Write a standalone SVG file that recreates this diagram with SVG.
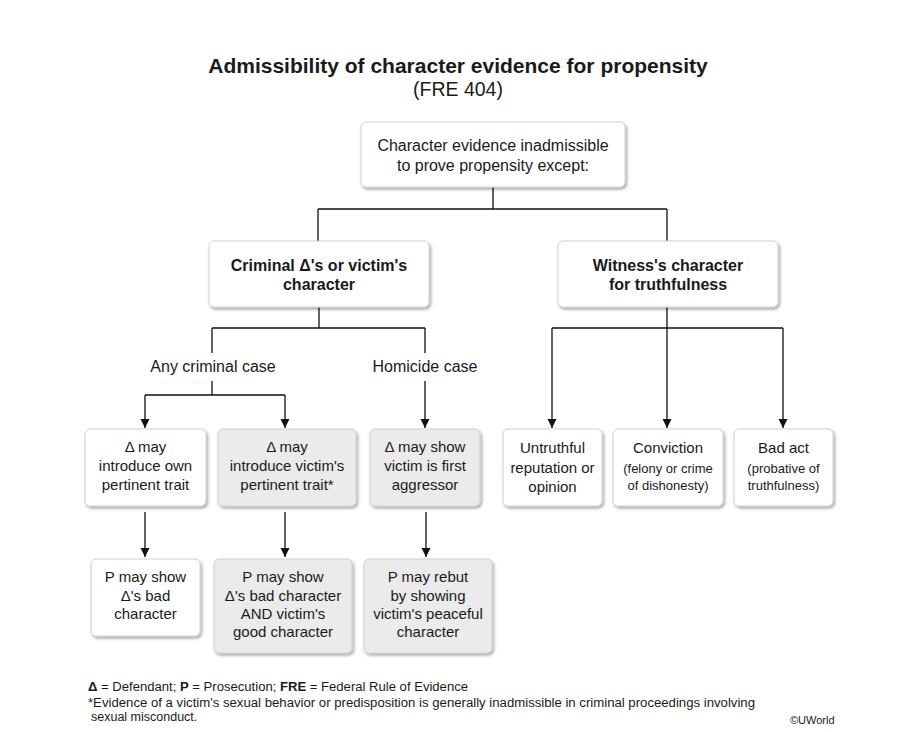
<svg xmlns="http://www.w3.org/2000/svg" width="906" height="732" viewBox="0 0 906 732">
<defs>
  <filter id="sh" x="-10%" y="-10%" width="125%" height="130%">
    <feDropShadow dx="1.5" dy="2" stdDeviation="1.5" flood-color="#000" flood-opacity="0.35"/>
  </filter>
  <marker id="arr" markerUnits="userSpaceOnUse" markerWidth="10" markerHeight="10" viewBox="0 0 10 10" refX="9" refY="5" orient="auto">
    <path d="M0,0.5 L9,5 L0,9.5 Z" fill="#111"/>
  </marker>
</defs>
<style>
  text { font-family: "Liberation Sans", Arial, sans-serif; fill: #1a1a1a; text-anchor: middle; }
  .title { font-size: 21px; font-weight: bold; }
  .sub { font-size: 19.5px; }
  .t16 { font-size: 16px; }
  .b16 { font-size: 16px; font-weight: bold; }
  .t15 { font-size: 15px; }
  .t13 { font-size: 13px; }
  .foot { font-size: 12.5px; text-anchor: start; }
  .box { fill: #ffffff; stroke: #cfcfcf; stroke-width: 1; filter: url(#sh); }
  .gbox { fill: #ebebeb; stroke: #cfcfcf; stroke-width: 1; filter: url(#sh); }
  .ln { fill: none; stroke: #111; stroke-width: 1.3; }
  .ar { fill: none; stroke: #111; stroke-width: 1.3; marker-end: url(#arr); }
</style>
<rect width="906" height="732" fill="#ffffff"/>

<text class="title" x="458" y="73">Admissibility of character evidence for propensity</text>
<text class="sub" x="458" y="96">(FRE 404)</text>

<g id="connectors">
  <path class="ln" d="M493,187 V209 M318,209 H667 M318,209 V241 M667,209 V241"/>
  <path class="ln" d="M319,307 V328 M212,328 H425 M212,328 V353 M425,328 V353"/>
  <path class="ln" d="M212,381 V395 M145,395 H285"/>
  <path class="ar" d="M145,395 V428"/>
  <path class="ar" d="M285,395 V428"/>
  <path class="ar" d="M425,381 V428"/>
  <path class="ln" d="M667,307 V328 M552,328 H783"/>
  <path class="ar" d="M552,328 V428"/>
  <path class="ar" d="M667,328 V428"/>
  <path class="ar" d="M783,328 V428"/>
  <path class="ar" d="M145,512 V557"/>
  <path class="ar" d="M285,512 V557"/>
  <path class="ar" d="M426,512 V557"/>
</g>

<g id="lbl-any"><text class="t16" x="213" y="372">Any criminal case</text></g>
<g id="lbl-homicide"><text class="t16" x="425" y="372">Homicide case</text></g>

<g id="n-top">
  <rect class="box" x="361" y="122" width="264" height="65" rx="5"/>
  <text class="t16" x="493" y="151">Character evidence inadmissible</text>
  <text class="t16" x="493" y="171">to prove propensity except:</text>
</g>

<g id="n-criminal">
  <rect class="box" x="209" y="241" width="220" height="66" rx="5"/>
  <text class="b16" x="319" y="271">Criminal Δ's or victim's</text>
  <text class="b16" x="319" y="290">character</text>
</g>

<g id="n-witness">
  <rect class="box" x="558" y="241" width="220" height="66" rx="5"/>
  <text class="b16" x="668" y="271">Witness's character</text>
  <text class="b16" x="668" y="290">for truthfulness</text>
</g>

<g id="n-own">
  <rect class="box" x="85" y="429" width="121" height="77" rx="5"/>
  <text class="t15" x="145.5" y="452">Δ may</text>
  <text class="t15" x="145.5" y="471">introduce own</text>
  <text class="t15" x="145.5" y="490">pertinent trait</text>
</g>

<g id="n-victim">
  <rect class="gbox" x="218" y="429" width="138" height="77" rx="5"/>
  <text class="t15" x="287" y="452">Δ may</text>
  <text class="t15" x="287" y="471">introduce victim's</text>
  <text class="t15" x="287" y="490">pertinent trait*</text>
</g>

<g id="n-aggressor">
  <rect class="gbox" x="370" y="429" width="110" height="77" rx="5"/>
  <text class="t15" x="425" y="452">Δ may show</text>
  <text class="t15" x="425" y="471">victim is first</text>
  <text class="t15" x="425" y="490">aggressor</text>
</g>

<g id="n-untruthful">
  <rect class="box" x="503" y="429" width="99" height="77" rx="5"/>
  <text class="t15" x="552.5" y="453">Untruthful</text>
  <text class="t15" x="552.5" y="473">reputation or</text>
  <text class="t15" x="552.5" y="492">opinion</text>
</g>

<g id="n-conviction">
  <rect class="box" x="613" y="429" width="110" height="77" rx="5"/>
  <text class="t15" x="668" y="453">Conviction</text>
  <text class="t13" x="668" y="473">(felony or crime</text>
  <text class="t13" x="668" y="490">of dishonesty)</text>
</g>

<g id="n-badact">
  <rect class="box" x="734" y="429" width="99" height="77" rx="5"/>
  <text class="t15" x="783.5" y="453">Bad act</text>
  <text class="t13" x="783.5" y="473">(probative of</text>
  <text class="t13" x="783.5" y="490">truthfulness)</text>
</g>

<g id="n-p-bad">
  <rect class="box" x="91" y="559" width="109" height="77" rx="5"/>
  <text class="t15" x="145.5" y="582">P may show</text>
  <text class="t15" x="145.5" y="601">Δ's bad</text>
  <text class="t15" x="145.5" y="619">character</text>
</g>

<g id="n-p-both">
  <rect class="gbox" x="214" y="559" width="138" height="94" rx="5"/>
  <text class="t15" x="283" y="582">P may show</text>
  <text class="t15" x="283" y="601">Δ's bad character</text>
  <text class="t15" x="283" y="619">AND victim's</text>
  <text class="t15" x="283" y="637">good character</text>
</g>

<g id="n-p-rebut">
  <rect class="gbox" x="364" y="559" width="128" height="94" rx="5"/>
  <text class="t15" x="428" y="582">P may rebut</text>
  <text class="t15" x="428" y="601">by showing</text>
  <text class="t15" x="428" y="619">victim's peaceful</text>
  <text class="t15" x="428" y="637">character</text>
</g>

<g id="footer">
  <text class="foot" x="88" y="691" textLength="380" lengthAdjust="spacingAndGlyphs"><tspan font-weight="bold">Δ</tspan> = Defendant; <tspan font-weight="bold">P</tspan> = Prosecution; <tspan font-weight="bold">FRE</tspan> = Federal Rule of Evidence</text>
  <text class="foot" x="88" y="707" textLength="667" lengthAdjust="spacingAndGlyphs">*Evidence of a victim's sexual behavior or predisposition is generally inadmissible in criminal proceedings involving</text>
  <text class="foot" x="91" y="721">sexual misconduct.</text>
  <text class="foot" x="790" y="724" style="font-size:11px">©UWorld</text>
</g>
</svg>
